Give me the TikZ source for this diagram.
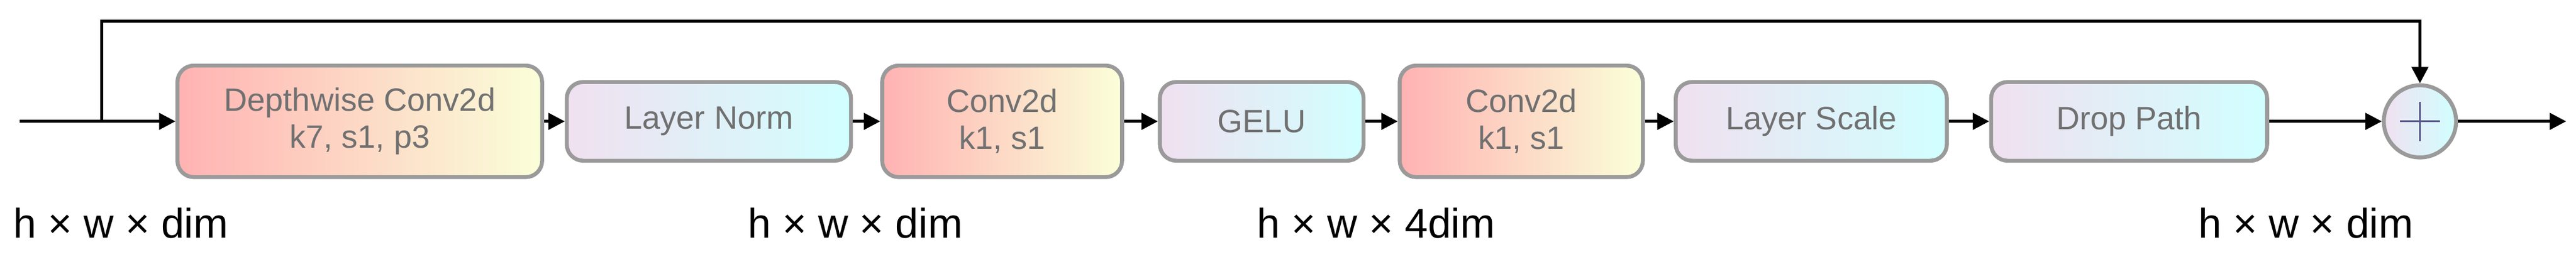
\documentclass[tikz,border=0pt]{standalone}
\usepackage{fontspec}
\setmainfont{Liberation Sans}
\usetikzlibrary{arrows.meta}
\definecolor{bd}{HTML}{9A9A9A}
\definecolor{tx}{HTML}{707070}
\tikzset{
  box/.style={draw=bd,line width=1.2mm,rounded corners=5mm,text=tx,font=\fontsize{28}{32}\selectfont,align=center,inner sep=0pt},
  warm/.style={box,shading=axis,shading angle=60,left color=red!30,right color=green!12!yellow!15},
  cool/.style={box,shading=axis,shading angle=60,left color=violet!12,right color=cyan!18},
  arr/.style={line width=0.9mm,-{Triangle[length=5mm,width=5mm]}},
  lbl/.style={font=\fontsize{36}{40}\selectfont,anchor=base west,inner sep=0pt}
}
\begin{document}
\begin{tikzpicture}[x=0.5mm,y=-0.5mm]
\useasboundingbox (0,0) rectangle (1568,167);
\node[warm,minimum width=111mm,minimum height=34mm] (b1) at (219,74) {Depthwise Conv2d\\k7, s1, p3};
\node[cool,minimum width=86.5mm,minimum height=24mm] (b2) at (431.5,74) {Layer Norm};
\node[warm,minimum width=73mm,minimum height=34mm] (b3) at (610,74) {Conv2d\\k1, s1};
\node[cool,minimum width=62mm,minimum height=24mm] (b4) at (768,74) {GELU};
\node[warm,minimum width=74mm,minimum height=34mm] (b5) at (926,74) {Conv2d\\k1, s1};
\node[cool,minimum width=82.5mm,minimum height=24mm] (b6) at (1102.5,74) {Layer Scale};
\node[cool,minimum width=84mm,minimum height=24mm] (b7) at (1296,74) {Drop Path};
\node[circle,draw=bd,line width=1.2mm,shading=axis,shading angle=60,left color=violet!12,right color=cyan!18,minimum size=22mm,inner sep=0pt] (add) at (1473,74) {};
\draw[line width=0.6mm,draw=tx!80!blue] ([xshift=-6mm]add.center) -- ([xshift=6mm]add.center) ([yshift=-6mm]add.center) -- ([yshift=6mm]add.center);
\coordinate (in) at (12,74);
\coordinate (br) at (62,74);
\coordinate (out) at (1562,74);
\draw[line width=0.9mm] (in) -- (br);
\draw[arr] (br) -- (b1);
\draw[arr] (b1) -- (b2);
\draw[arr] (b2) -- (b3);
\draw[arr] (b3) -- (b4);
\draw[arr] (b4) -- (b5);
\draw[arr] (b5) -- (b6);
\draw[arr] (b6) -- (b7);
\draw[arr] (b7) -- (add);
\draw[arr] (add) -- (out);
\draw[arr] (br) |- (62,13) -| (add.north);
\node[lbl] (l1) at (8,145) {h × w × dim};
\node[lbl] (l2) at (455,145) {h × w × dim};
\node[lbl] (l3) at (765,145) {h × w × 4dim};
\node[lbl] (l4) at (1338,145) {h × w × dim};
\end{tikzpicture}
\end{document}
